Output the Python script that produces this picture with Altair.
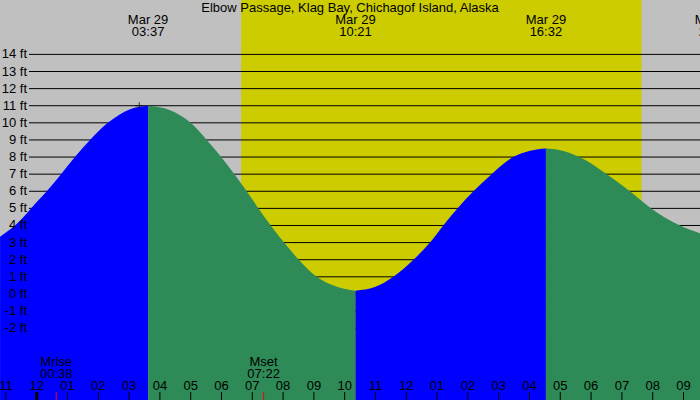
import altair as alt
import pandas as pd

# ---- data ----
title_text = "Elbow Passage, Klag Bay, Chichagof Island, Alaska"

# tide curve samples: hours from Mar 29 00:00, height in ft
tide_hours = [-1.19, -0.52, -0.185, 0.325, 0.79, 1.24, 1.73, 2.31, 3.03, 3.617,
              4.33, 5.00, 5.52, 5.99, 6.42, 6.82, 7.20, 7.60, 8.03, 8.51, 9.09, 9.85, 10.35,
              10.98, 11.58, 12.23, 12.77, 13.20, 13.66, 14.18, 14.77, 15.47, 16.02, 16.533,
              17.0, 17.62, 18.51, 19.26, 19.95, 20.89, 21.54]
tide_feet = [3.34, 4.32, 5.0, 6.0, 7.0, 8.0, 9.0, 10.0, 10.8, 11.0,
             10.74, 10.0, 9.0, 8.0, 7.0, 6.0, 5.0, 4.0, 3.0, 2.0, 1.0, 0.36, 0.19,
             0.40, 1.0, 2.0, 3.0, 4.0, 5.0, 6.0, 7.0, 8.0, 8.37, 8.5,
             8.40, 8.0, 7.0, 6.0, 5.0, 4.0, 3.54]
# turning points splitting rising / falling segments
turn_hours = [3.617, 10.35, 16.533]
first_phase = "rising"

# daylight
sunrise_hour = 6.64
sunset_hour = 19.64

# top labels (tide extremes)
tide_label_hours = [3.617, 10.35, 16.533, 22.02]
tide_label_dates = ["Mar 29", "Mar 29", "Mar 29", "Mar 29"]
tide_label_times = ["03:37", "10:21", "16:32", "22:01"]

# moon events
moon_hours = [0.633, 7.367]
moon_names = ["Mrise", "Mset"]
moon_times = ["00:38", "07:22"]

# hour axis
hour_values = list(range(-1, 22))
hour_labels = ["11", "12", "01", "02", "03", "04", "05", "06", "07", "08", "09", "10",
               "11", "12", "01", "02", "03", "04", "05", "06", "07", "08", "09"]
midnight_hours = [0]

# feet axis
feet_values = list(range(-2, 15))
feet_labels = [f"{v} ft" for v in feet_values]

# small marker
marker_hours = [3.33]
marker_feet = [11.0]

Y_MIN, Y_MAX = -6.2, 17.18

# ---- build tables ----
rows = []
bounds = [-1e9] + turn_hours + [1e9]
phase = first_phase
for i in range(len(bounds) - 1):
    lo, hi = bounds[i], bounds[i + 1]
    for h, f in zip(tide_hours, tide_feet):
        if lo <= h <= hi:
            rows.append({"hour": h, "ft": f, "base": Y_MIN, "seg": i, "phase": phase})
    phase = "falling" if phase == "rising" else "rising"
tide_df = pd.DataFrame(rows)

W, H = 700, 400
xs = alt.Scale(domain=[-1.1916, 21.536], range=[0, W], nice=False, zero=False)
ys = alt.Scale(domain=[Y_MIN, Y_MAX], nice=False, zero=False)
FONT = "Liberation Sans"
FS = 13

day = alt.Chart(pd.DataFrame({"a": [sunrise_hour], "b": [sunset_hour]})).mark_rect(
    color="#CCCC00").encode(
    x=alt.X("a:Q", scale=xs, axis=None), x2="b:Q",
    y=alt.value(0), y2=alt.value(H))

grid = alt.Chart(pd.DataFrame({"ft": feet_values})).mark_rule(
    color="black", strokeWidth=1).encode(
    y=alt.Y("ft:Q", scale=ys, axis=None), x=alt.value(29), x2=alt.value(W))

area = alt.Chart(tide_df).mark_area(interpolate="monotone").encode(
    x=alt.X("hour:Q", scale=xs, axis=None),
    y=alt.Y("ft:Q", scale=ys, axis=None, stack=None),
    y2="base:Q",
    color=alt.Color("phase:N", scale=alt.Scale(domain=["rising", "falling"],
                                               range=["#0000FF", "#2E8B57"]), legend=None),
    detail="seg:N")

ylab = alt.Chart(pd.DataFrame({"ft": feet_values, "lab": feet_labels})).mark_text(
    align="right", baseline="middle", font=FONT, fontSize=FS, color="black").encode(
    y=alt.Y("ft:Q", scale=ys, axis=None), x=alt.value(27), text="lab:N")

marker = alt.Chart(pd.DataFrame({"hour": marker_hours, "ft": marker_feet})).mark_point(
    shape="M-1,0L1,0M0,-1L0,1", size=50, stroke="black", strokeWidth=1, filled=False).encode(
    x=alt.X("hour:Q", scale=xs, axis=None), y=alt.Y("ft:Q", scale=ys, axis=None))

title = alt.Chart(pd.DataFrame({"t": [title_text]})).mark_text(
    align="center", baseline="alphabetic", font=FONT, fontSize=FS, color="black").encode(
    x=alt.value(W / 2), y=alt.value(12), text="t:N")

tdf = pd.DataFrame({"hour": tide_label_hours, "d": tide_label_dates, "t": tide_label_times})
top1 = alt.Chart(tdf).mark_text(align="center", baseline="alphabetic", font=FONT,
                                fontSize=FS, color="black", clip=True).encode(
    x=alt.X("hour:Q", scale=xs, axis=None), y=alt.value(24), text="d:N")
top2 = alt.Chart(tdf).mark_text(align="center", baseline="alphabetic", font=FONT,
                                fontSize=FS, color="black", clip=True).encode(
    x=alt.X("hour:Q", scale=xs, axis=None), y=alt.value(36), text="t:N")

mdf = pd.DataFrame({"hour": moon_hours, "n": moon_names, "t": moon_times})
moon1 = alt.Chart(mdf).mark_text(align="center", baseline="alphabetic", font=FONT,
                                 fontSize=FS, color="black").encode(
    x=alt.X("hour:Q", scale=xs, axis=None), y=alt.value(366), text="n:N")
moon2 = alt.Chart(mdf).mark_text(align="center", baseline="alphabetic", font=FONT,
                                 fontSize=FS, color="black").encode(
    x=alt.X("hour:Q", scale=xs, axis=None), y=alt.value(378), text="t:N")
moontick = alt.Chart(mdf).mark_rule(color="#FF0000", strokeWidth=1).encode(
    x=alt.X("hour:Q", scale=xs, axis=None), y=alt.value(392), y2=alt.value(H))

hdf = pd.DataFrame({"hour": hour_values, "lab": hour_labels})
hlab = alt.Chart(hdf).mark_text(align="center", baseline="alphabetic", font=FONT,
                                fontSize=FS, color="black").encode(
    x=alt.X("hour:Q", scale=xs, axis=None), y=alt.value(390), text="lab:N")
htick = alt.Chart(hdf).mark_rule(color="black", strokeWidth=1).encode(
    x=alt.X("hour:Q", scale=xs, axis=None), y=alt.value(392), y2=alt.value(H))
midtick = alt.Chart(pd.DataFrame({"hour": midnight_hours})).mark_rule(
    color="black", strokeWidth=3).encode(
    x=alt.X("hour:Q", scale=xs, axis=None), y=alt.value(392), y2=alt.value(H))

chart = alt.layer(day, grid, area, ylab, marker, title, top1, top2,
                  moon1, moon2, hlab, htick, midtick, moontick).properties(
    width=W, height=H, autosize="none", padding=0, background="#C0C0C0"
).configure_view(stroke=None, fill="#C0C0C0")

chart.save("out.html", embed_options={"renderer": "svg", "actions": False})
